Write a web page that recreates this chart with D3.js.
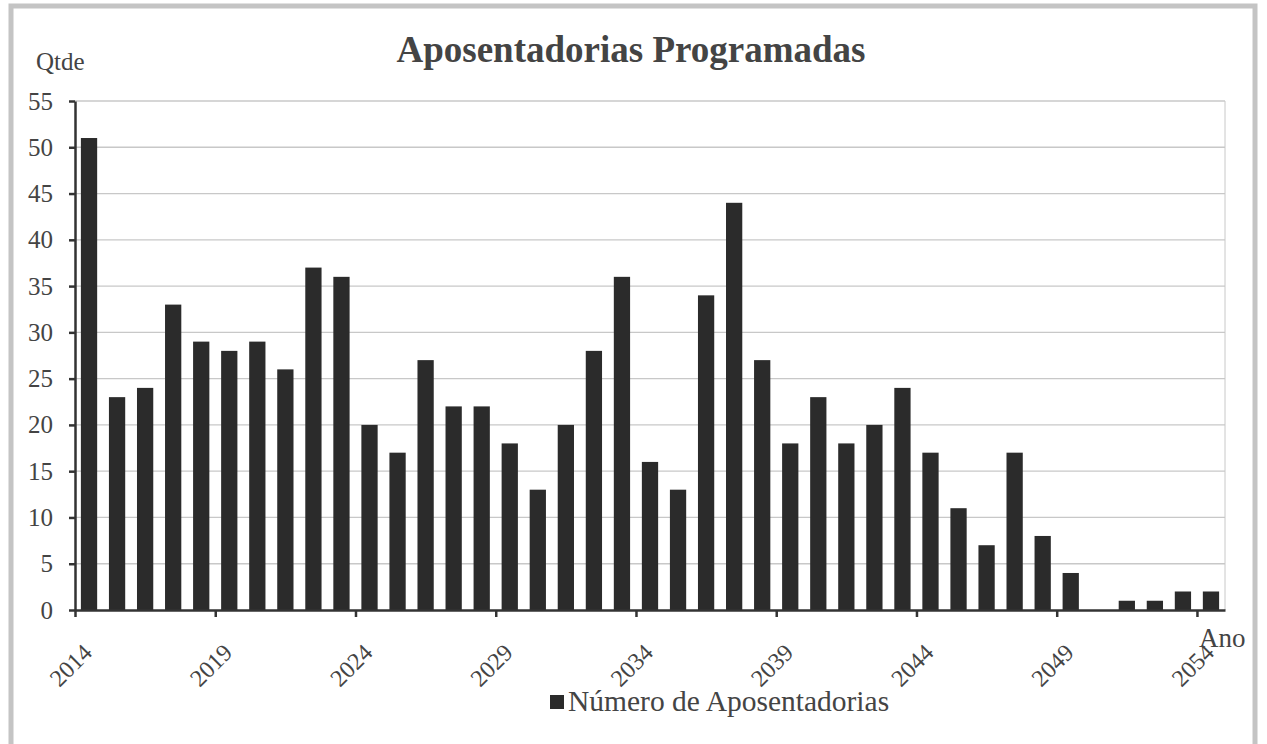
<!DOCTYPE html>
<html>
<head>
<meta charset="utf-8">
<script src="https://cdn.jsdelivr.net/npm/d3@7"></script>
<style>
  body { margin: 0; background: #fff; }
  text { font-family: "Liberation Serif", "Times New Roman", serif; fill: #444; }
</style>
</head>
<body>
<svg width="1267" height="744"></svg>
<script>
// anos e quantidades de aposentadorias
var years = d3.range(2014, 2055);
var values = [51, 23, 24, 33, 29, 28, 29, 26, 37, 36,
              20, 17, 27, 22, 22, 18, 13, 20, 28, 36,
              16, 13, 34, 44, 27, 18, 23, 18, 20, 24,
              17, 11, 7, 17, 8, 4, 0, 1, 1, 2, 2];
var yTicks = d3.range(0, 56, 5);
var xTickYears = [2014, 2019, 2024, 2029, 2034, 2039, 2044, 2049, 2054];
var seriesName = "Número de Aposentadorias";

var svg = d3.select("svg"),
    margin = {top: 101, right: 42, bottom: 134, left: 75},
    width = svg.attr("width") - margin.left - margin.right,
    height = svg.attr("height") - margin.top - margin.bottom;

var data = years.map(function(y, i) { return {year: y, value: values[i]}; });

// moldura cinza
svg.append("rect")
    .attr("x", 11).attr("y", 6)
    .attr("width", 1244).attr("height", 750)
    .attr("fill", "none")
    .attr("stroke", "#c4c4c4")
    .attr("stroke-width", 5);

var x = d3.scaleBand()
    .domain(years)
    .range([0, width])
    .paddingInner(0.42)
    .paddingOuter(0.21);

var y = d3.scaleLinear()
    .domain([0, 55])
    .range([height, 0]);

var g = svg.append("g")
    .attr("transform", "translate(" + margin.left + "," + margin.top + ")");

// grade
g.selectAll(".grid").data(yTicks.slice(1)).enter().append("line")
    .attr("x1", 0).attr("x2", width)
    .attr("y1", d => y(d)).attr("y2", d => y(d))
    .attr("stroke", "#c8c8c8")
    .attr("stroke-width", 1.3);

g.append("line")
    .attr("x1", width).attr("x2", width)
    .attr("y1", 0).attr("y2", height)
    .attr("stroke", "#c8c8c8");

// barras
g.selectAll(".bar").data(data).enter().append("rect")
    .attr("class", "bar")
    .attr("x", d => x(d.year))
    .attr("width", x.bandwidth())
    .attr("y", d => y(d.value))
    .attr("height", d => height - y(d.value))
    .attr("fill", "#2b2b2b");

// eixo y
var yAxis = g.append("g")
    .call(d3.axisLeft(y).tickValues(yTicks).tickSize(6).tickSizeOuter(0).tickPadding(16));
yAxis.select(".domain").attr("stroke", "#333").attr("stroke-width", 2.5);
yAxis.selectAll(".tick line").attr("stroke", "#333").attr("stroke-width", 2.5);
yAxis.selectAll(".tick text")
    .style("font-family", "Liberation Serif, serif")
    .style("font-size", "25px")
    .attr("fill", "#444");

// eixo x: marcas nas bordas das categorias
var xEdge = d3.scaleLinear()
    .domain([2014, 2055])
    .range([0, width]);

var xAxis = g.append("g")
    .attr("transform", "translate(0," + height + ")")
    .call(d3.axisBottom(xEdge).tickValues(xTickYears).tickSize(7).tickSizeOuter(0).tickFormat(d3.format("d")));
xAxis.select(".domain").attr("stroke", "#333").attr("stroke-width", 2.5);
xAxis.selectAll(".tick line").attr("stroke", "#333").attr("stroke-width", 2.5);
xAxis.selectAll(".tick text")
    .style("font-family", "Liberation Serif, serif")
    .style("font-size", "24px")
    .attr("fill", "#444")
    .attr("text-anchor", "end")
    .attr("dy", 0)
    .attr("transform", "translate(18,44) rotate(-45)")
    .attr("y", 0).attr("x", 0);

// textos
svg.append("text")
    .attr("x", 631).attr("y", 62)
    .attr("text-anchor", "middle")
    .style("font-size", "37px")
    .style("font-weight", "bold")
    .text("Aposentadorias Programadas");

svg.append("text")
    .attr("x", 36).attr("y", 70)
    .style("font-size", "25px")
    .text("Qtde");

svg.append("text")
    .attr("x", 1199).attr("y", 647)
    .style("font-size", "27px")
    .text("Ano");

// legenda
svg.append("rect")
    .attr("x", 550).attr("y", 695)
    .attr("width", 14).attr("height", 14)
    .attr("fill", "#2b2b2b");
svg.append("text")
    .attr("x", 568).attr("y", 711)
    .style("font-size", "29.5px")
    .text(seriesName);
</script>
</body>
</html>
